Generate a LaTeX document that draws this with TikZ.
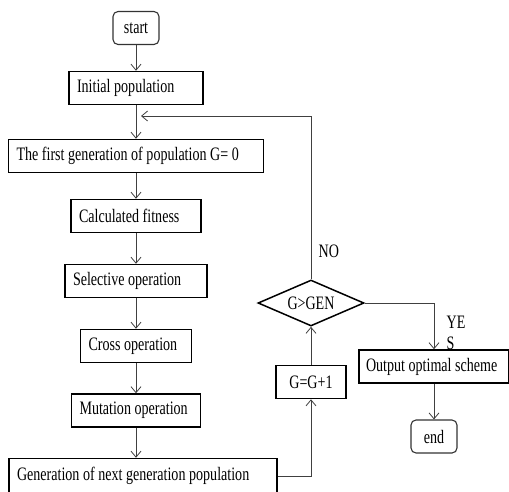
\documentclass[tikz,border=0pt]{standalone}
\usepackage{fontspec}
\setmainfont{Liberation Serif}[FakeStretch=0.74]
\usetikzlibrary{positioning, arrows.meta, shapes.geometric}
\newcommand\tightspace{\spaceskip=3.6pt plus 1pt minus 0.5pt\relax}

\begin{document}
\begin{tikzpicture}[x=1pt, y=1pt, on grid, >={Straight Barb[length=6pt,width=10pt]},
    font=\fontsize{19}{21}\selectfont, execute at begin node=\tightspace,
    block/.style={draw, line width=1.5pt, rectangle, inner xsep=8pt, inner ysep=0pt, minimum height=33pt, align=left},
    term/.style={draw=black!80, line width=1.1pt, rectangle, rounded corners=5pt, minimum width=46pt, minimum height=33pt},
    decide/.style={draw, line width=1.5pt, diamond, aspect=2.3, inner sep=1pt, minimum width=106pt, minimum height=46pt},
    link/.style={draw=black!75, line width=0.8pt}]
            \useasboundingbox (0,0) rectangle (509,-491);

            \node[term] (start) at (136,-28) {start};
            \node[block, text width=118pt] (init) [below=60pt of start] {Initial population};
            \node[block, text width=239pt] (first) [below=68pt of init] {The first generation of population G= 0};
            \node[block, text width=114pt] (fit) [below=60pt of first] {Calculated fitness};
            \node[block, text width=126pt] (sel) [below=65pt of fit] {Selective operation};
            \node[block, text width=95pt] (cross) [below=65pt of sel] {Cross operation};
            \node[block, text width=113pt] (mut) [below=64.5pt of cross] {Mutation operation};
            \node[block, text width=252pt, minimum height=35pt] (next) [below=65.5pt of mut, xshift=7pt] {Generation of next generation population};

            \node[decide] (gt) at (311,-303) {G>GEN};
            \node[block, align=center, minimum width=70pt] (inc) [below=79pt of gt] {G=G+1};
            \node[block, inner xsep=7pt, text width=136pt] (out) [below right=63.5pt and 123pt of gt] {Output optimal scheme};
            \node[term] (end) [below=70pt of out] {end};
            \coordinate[below=28pt of init, xshift=5pt] (merge);

            \path[link, ->]
            (start) edge (init)
            (init) edge (first)
            (first) edge (fit)
            (fit) edge (sel)
            (sel) edge (cross)
            (cross) edge (mut)
            (mut) edge (mut |- next.north)
            (inc) edge (gt)
            (out) edge (end);

            \draw[link, ->] (next.east) -| (inc.south);
            \draw[link, ->] (gt.north) |- node[pos=0.085, right, xshift=4pt] {NO} (merge);
            \draw[link, ->] (gt.east) -| node[pos=0.82, right, xshift=9pt, align=left] {YE\\S} (out.north);
        \end{tikzpicture}
\end{document}
